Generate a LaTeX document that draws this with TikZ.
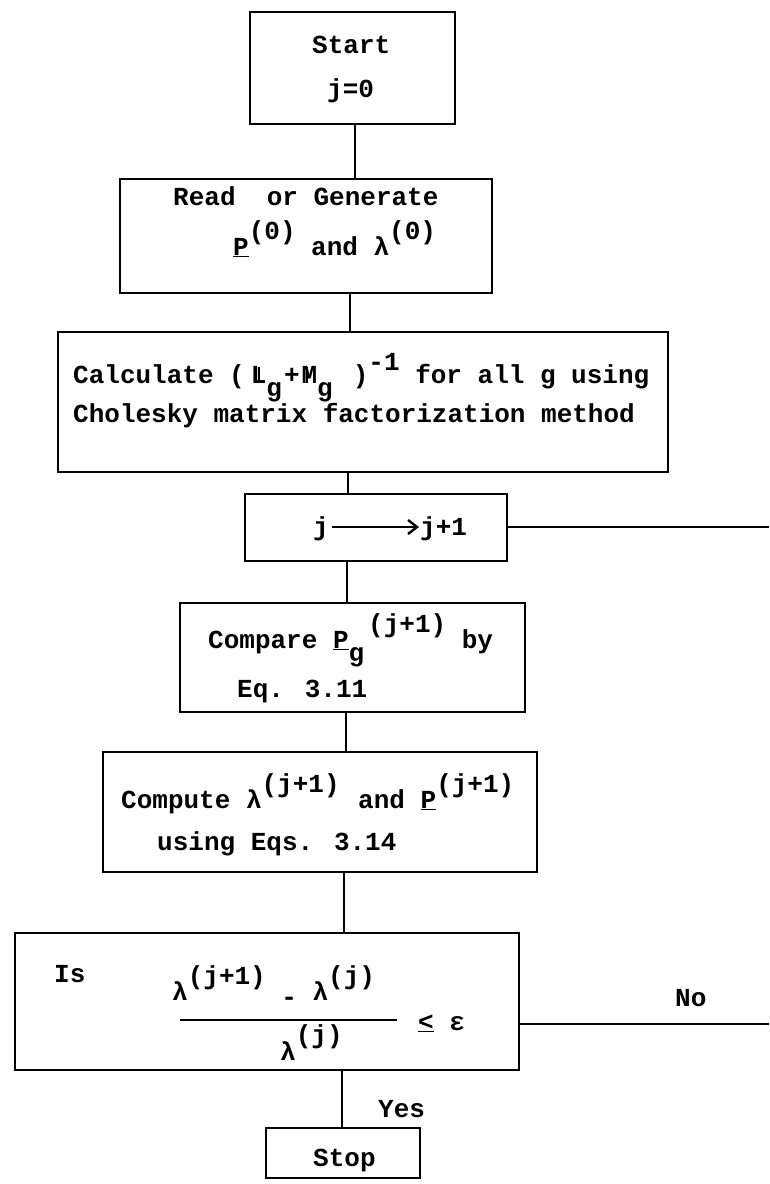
\documentclass[tikz,border=0pt]{standalone}
\usepackage{fontspec}
\usetikzlibrary{arrows.meta}
\setmainfont{Liberation Mono}[BoldFont={Liberation Mono Bold}]
\newcommand{\ovL}{\rlap{\hspace{0.29em}\rule{1.6pt}{0.6em}}L}
\newcommand{\ovM}{\rlap{\hspace{0.17em}\rule{1.6pt}{0.6em}}M}
\newcommand{\upr}[1]{\raisebox{0.6em}{#1}}
\newcommand{\dnr}[1]{\raisebox{-0.5em}{#1}}
\begin{document}
\begin{tikzpicture}[x=1pt,y=-1pt,
  box/.style={draw,line width=2.2pt,inner sep=0pt},
  conn/.style={line width=2pt},
  txt/.style={inner sep=0pt,font=\fontsize{26}{30}\selectfont\bfseries,anchor=base west}]
\useasboundingbox (0,0) rectangle (769,1184);
% boxes
\node[box,minimum width=205pt,minimum height=112pt] (start) at (352.5,68) {};
\node[box,minimum width=372pt,minimum height=114pt] (read) at (306,236) {};
\node[box,minimum width=610pt,minimum height=140pt] (calc) at (363,402) {};
\node[box,minimum width=262pt,minimum height=67pt] (jbox) at (376,527.5) {};
\node[box,minimum width=345pt,minimum height=109pt] (cmp) at (352.5,657.5) {};
\node[box,minimum width=434pt,minimum height=120pt] (cpt) at (320,812) {};
\node[box,minimum width=504pt,minimum height=137pt] (is) at (267,1001.5) {};
\node[box,minimum width=154pt,minimum height=50pt] (stop) at (343,1153) {};
% texts
\node[txt] (t1) at (312,53) {Start};
\node[txt] (t2) at (327,97) {j=0};
\node[txt] (t3) at (173,205) {Read\ \ or Generate};
\node[txt] (t4) at (233,255) {\underline{P}\upr{(0)} and λ\upr{(0)}};
\node[txt] (c1) at (73,383) {Calculate (\hspace{6pt}\ovL\dnr{g}\hspace{2pt}+\hspace{2pt}\ovM\dnr{g}\hspace{20pt})\raisebox{0.5em}{-1} for all g using};
\node[txt] (c3) at (73,422) {Cholesky matrix factorization method};
\node[txt] (j1) at (313,535) {j};
\node[txt] (j2) at (420,535) {j+1};
\node[txt] (p1) at (208,648) {Compare \underline{P}\dnr{g}\hspace{4pt}\upr{(j+1)} by};
\node[txt] (p6) at (237,697) {Eq. 3.11};
\node[txt] (q1) at (121,808) {Compute λ\upr{(j+1)}\hspace{3pt} and \underline{P}\upr{(j+1)}};
\node[txt] (q7) at (157,850) {using Eqs. 3.14};
\node[txt] (i1) at (54,982) {Is};
\node[txt] (n1) at (172,1000) {λ\upr{(j+1)} \raisebox{-0.2em}{-} λ\upr{(j)}};
\node[txt] (d1) at (280,1060) {λ\raisebox{0.65em}{(j)}};
\node[txt] (le) at (418,1030) {\underline{<} ε};
\node[txt] (no) at (675,1006) {No};
\node[txt] (yes) at (378,1117) {Yes};
\node[txt] (t13) at (313,1166) {Stop};
\coordinate (fl) at (180,1020);
\coordinate (fr) at (397,1020);
\draw[line width=1.8pt] (fl) -- (fr);
% j arrow
\coordinate (a1) at (332,527);
\coordinate (a2) at (419,527);
\draw[line width=2pt,-{Straight Barb[length=9pt,width=14pt,line width=2.4pt]}] (a1) -- (a2);
% connectors
\coordinate (s1) at (355,0);
\coordinate (s2) at (350,0);
\coordinate (s3) at (348,0);
\coordinate (s4) at (347,0);
\coordinate (s5) at (346,0);
\coordinate (s6) at (344,0);
\coordinate (s7) at (342,0);
\coordinate (e1) at (769,527);
\coordinate (e2) at (769,1024);
\draw[conn] (start.south -| s1) -- (read.north -| s1);
\draw[conn] (read.south -| s2) -- (calc.north -| s2);
\draw[conn] (calc.south -| s3) -- (jbox.north -| s3);
\draw[conn] (jbox.south -| s4) -- (cmp.north -| s4);
\draw[conn] (cmp.south -| s5) -- (cpt.north -| s5);
\draw[conn] (cpt.south -| s6) -- (is.north -| s6);
\draw[conn] (is.south -| s7) -- (stop.north -| s7);
\draw[conn] (jbox.east |- e1) -- (e1);
\draw[conn] (is.east |- e2) -- (e2);
\end{tikzpicture}
\end{document}
